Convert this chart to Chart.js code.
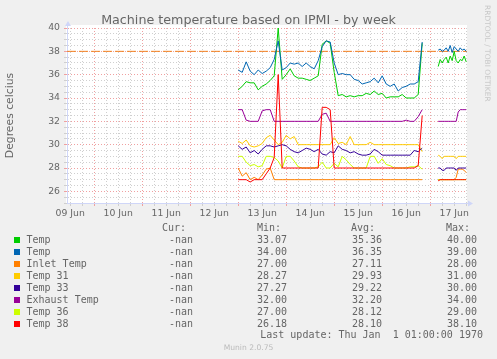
<!DOCTYPE html>
<html>
<head>
<meta charset="utf-8">
<title>Machine temperature based on IPMI - by week</title>
<script src="https://cdn.jsdelivr.net/npm/chart.js@4.4.1/dist/chart.umd.min.js"></script>
<style>
    html, body { margin: 0; padding: 0; background: #f0f0f0; }
    #wrap { position: relative; width: 497px; height: 359px; overflow: hidden; color: #666; }
    #grafico { position: absolute; left: 0; top: 0; }
    #titulo { position: absolute; left: 0; top: 12px; width: 497px; text-align: center;
              font: 12.7px/15px "DejaVu Sans", sans-serif; color: #666; }
    #marca { position: absolute; left: 492px; top: 5px; transform-origin: 0 0; transform: rotate(90deg);
             font: 7.5px/9px "DejaVu Sans", sans-serif; color: #c8c8c8; white-space: nowrap; }
    .t { position: absolute; white-space: pre; font: 10px/12px "DejaVu Sans Mono", monospace; color: #666; }
    .q { position: absolute; width: 6px; height: 6px; }
    #munin { position: absolute; left: 0; width: 497px; top: 343px; text-align: center;
             font: 7.6px/10px "DejaVu Sans", sans-serif; color: #bbb; }
</style>
</head>
<body>
<div id="wrap">
    <canvas id="grafico" width="497" height="359"></canvas>
    <div id="titulo">Machine temperature based on IPMI - by week</div>
    <div id="marca">RRDTOOL / TOBI OETIKER</div>
    <div id="legenda"></div>
    <div id="munin">Munin 2.0.75</div>
</div>
<script>
// Horas desde 09 Jun 00:00 (null = buraco nos dados)
const horas = [96, 98, 100, 102, 104, 106, 108, 110, 112, 114,
    116, 118, 120, 122, 124, 126, 128, 130, 132, 134,
    136, 138, 140, 142, 144, 146, 148, 150, 152, 154,
    156, 158, 160, 162, 164, 166, 168, 170, 172, 174,
    176, 178, 180, 182, 184, 186, 188,
    192,
    196, 197, 198, 199, 200, 201, 202, 203, 204, 205, 206, 207, 208, 209, 210];

const temp1 = [34.7, 35.0, 35.4, 35.3, 35.3, 34.7, 35.0, 35.2, 35.5, 35.9,
    40.0, 35.6, 36.0, 36.5, 35.9, 35.7, 35.7, 35.6, 35.5, 35.7,
    35.9, 38.6, 38.9, 38.7, 36.2, 34.2, 34.3, 34.1, 34.2, 34.1,
    34.2, 34.2, 34.4, 34.3, 34.6, 34.3, 34.4, 34.0, 34.1, 34.1,
    34.1, 34.3, 34.0, 34.0, 34.0, 34.3, 38.7,
    null,
    36.7, 37.3, 37.0, 37.3, 37.5, 37.0, 37.6, 37.2, 38.0, 37.2, 37.0, 37.3, 37.2, 37.6, 37.1];

const temp2 = [36.4, 36.2, 37.1, 36.3, 36.0, 36.4, 36.1, 36.3, 36.6, 37.3,
    38.9, 36.4, 36.6, 37.0, 36.9, 37.0, 36.7, 37.0, 36.7, 36.5,
    37.2, 38.4, 38.9, 38.8, 37.0, 36.0, 36.1, 36.0, 36.0, 35.6,
    35.5, 35.2, 35.3, 35.4, 35.7, 35.3, 35.9, 35.2, 35.0, 35.2,
    34.6, 34.9, 35.0, 35.2, 35.2, 35.4, 38.8,
    null,
    38.1, 38.2, 38.0, 38.1, 38.3, 38.0, 38.5, 37.9, 38.4, 38.2, 38.0, 38.3, 38.1, 38.2, 38.0];

const inletTemp = [28.0, 27.3, 27.6, 27.0, 27.2, 27.0, 27.4, 27.9, 28.0, 27.0,
    27.0, 27.0, 27.0, 27.0, 27.0, 27.0, 27.0, 27.0, 27.0, 27.0,
    27.0, 27.0, 27.0, 27.0, 27.0, 27.0, 27.0, 27.0, 27.0, 27.0,
    27.0, 27.0, 27.0, 27.0, 27.0, 27.0, 27.0, 27.0, 27.0, 27.0,
    27.0, 27.0, 27.0, 27.0, 27.0, 27.0, 27.0,
    null,
    27.0, 27.0, 27.0, 27.0, 27.0, 27.0, 27.0, 27.0, 27.0, 27.2, 27.9, 27.9, 27.9, 27.8, 27.6];

const temp31 = [30.3, 30.1, 30.4, 29.9, 29.8, 29.9, 30.1, 30.6, 30.8, 30.4,
    30.0, 30.2, 30.8, 30.5, 30.7, 30.0, 30.0, 30.0, 30.0, 30.0,
    30.0, 30.0, 30.0, 30.0, 30.6, 30.1, 30.2, 30.0, 30.7, 30.0,
    30.0, 30.0, 30.0, 30.2, 30.0, 30.0, 30.0, 30.0, 30.0, 30.0,
    30.0, 30.0, 30.0, 30.0, 30.0, 30.0, 29.4,
    null,
    29.1, 29.0, 28.8, 29.0, 29.0, 29.0, 29.0, 29.0, 29.0, 28.8, 29.0, 29.0, 29.0, 29.0, 29.0];

const temp33 = [29.9, 29.6, 29.8, 29.3, 29.5, 29.2, 29.6, 29.9, 29.9, 29.8,
    29.9, 30.0, 29.9, 29.6, 29.4, 29.3, 29.5, 29.7, 29.6, 29.4,
    29.6, 29.2, 29.1, 29.4, 29.3, 29.9, 29.6, 29.5, 29.3, 29.4,
    29.2, 29.1, 29.1, 29.2, 29.6, 29.4, 29.1, 29.1, 29.1, 29.1,
    29.1, 29.1, 29.1, 29.1, 29.5, 29.4, 29.7,
    null,
    28.0, 28.0, 27.8, 27.8, 28.0, 28.0, 28.0, 28.0, 28.0, 27.8, 28.0, 28.0, 28.0, 28.0, 28.0];

const exhaustTemp = [33.0, 33.0, 32.1, 32.0, 32.0, 32.0, 32.9, 33.0, 33.0, 32.0,
    32.0, 32.0, 32.0, 32.0, 32.0, 32.0, 32.0, 32.0, 32.0, 32.0,
    32.0, 32.6, 32.7, 32.0, 32.0, 32.0, 32.0, 32.0, 32.0, 32.0,
    32.0, 32.0, 32.0, 32.0, 32.0, 32.0, 32.0, 32.0, 32.0, 32.0,
    32.0, 32.0, 32.1, 32.0, 32.0, 32.4, 33.0,
    null,
    32.0, 32.0, 32.0, 32.0, 32.0, 32.0, 32.0, 32.0, 32.0, 32.0, 32.8, 33.0, 33.0, 33.0, 33.0];

const temp36 = [29.0, 29.0, 28.5, 28.2, 28.3, 28.1, 28.2, 29.0, 29.0, 28.9,
    28.6, 28.0, 29.0, 29.0, 28.6, 28.1, 28.0, 28.0, 28.0, 28.0,
    28.1, 28.5, 28.0, 28.0, 28.4, 28.1, 29.0, 28.7, 28.3, 28.0,
    28.0, 28.0, 28.0, 29.0, 29.0, 28.4, 28.8, 28.3, 28.2, 28.0,
    28.0, 28.0, 28.0, 28.1, 28.1, 28.2, 27.9,
    null,
    27.0, 27.0, 27.0, 27.0, 27.0, 27.0, 27.0, 27.0, 27.0, 27.0, 27.0, 27.0, 27.0, 27.0, 27.0];

const temp38 = [27.0, 27.0, 27.0, 26.8, 27.0, 27.0, 27.0, 27.5, 28.0, 28.9,
    36.0, 28.0, 28.0, 28.0, 28.0, 28.0, 28.0, 28.0, 28.0, 28.0,
    28.0, 33.2, 33.2, 33.0, 28.0, 28.0, 28.0, 28.0, 28.0, 28.0,
    28.0, 28.0, 28.0, 28.0, 28.0, 28.0, 28.0, 28.0, 28.0, 28.0,
    28.0, 28.0, 28.0, 28.0, 28.0, 28.2, 32.5,
    null,
    26.9, 27.0, 27.0, 27.0, 27.0, 27.0, 27.0, 27.0, 27.0, 27.0, 27.0, 27.0, 27.0, 27.0, 27.0];

// Linha de aviso (tracejada)
const nivelAviso = 38;

// Rótulos do eixo x (centrados ao meio-dia) e legenda
const rotulosDias = ['09 Jun', '10 Jun', '11 Jun', '12 Jun', '13 Jun', '14 Jun', '15 Jun', '16 Jun', '17 Jun'];
const nomes = ['Temp', 'Temp', 'Inlet Temp', 'Temp 31', 'Temp 33', 'Exhaust Temp', 'Temp 36', 'Temp 38'];
const cores = ['#00CC00', '#0066B3', '#FF8000', '#FFCC00', '#330099', '#990099', '#CCFF00', '#FF0000'];
const valoresCur = ['-nan', '-nan', '-nan', '-nan', '-nan', '-nan', '-nan', '-nan'];
const valoresMin = ['33.07', '34.00', '27.00', '28.27', '27.27', '32.00', '27.00', '26.18'];
const valoresAvg = ['35.36', '36.35', '27.11', '29.93', '29.22', '32.20', '28.12', '28.10'];
const valoresMax = ['40.00', '39.00', '28.00', '31.00', '30.00', '34.00', '29.00', '38.10'];
const series = [temp1, temp2, inletTemp, temp31, temp33, exhaustTemp, temp36, temp38];

document.addEventListener('DOMContentLoaded', function() {
    if (typeof Chart === 'undefined') {
        console.error('Chart.js não foi carregado!');
        return;
    }

    const corGrade = '#cfcfcf';
    const corGradeMaior = '#f0a0a0';
    const corEixo = '#CFD6F8';
    const xMin = 10.4, xMax = 210.4;

    // fundo branco da área do gráfico
    const fundo = {
        id: 'fundo',
        beforeDraw(chart) {
            const a = chart.chartArea, c = chart.ctx;
            c.save();
            c.fillStyle = '#ffffff';
            c.fillRect(a.left - 1, a.top - 3, a.right - a.left + 1, a.bottom - a.top + 3);
            c.restore();
        }
    };

    // setas dos eixos (estilo rrdtool)
    const setas = {
        id: 'setas',
        afterDraw(chart) {
            const a = chart.chartArea, c = chart.ctx;
            const x0 = Math.round(a.left) + 0.5, y0 = Math.round(a.bottom) + 0.5;
            c.save();
            c.strokeStyle = corEixo;
            c.fillStyle = corEixo;
            c.lineWidth = 1;
            c.beginPath();
            c.moveTo(x0, a.top); c.lineTo(x0, a.top - 4);
            c.moveTo(a.right, y0); c.lineTo(a.right + 4, y0);
            c.stroke();
            c.beginPath();
            c.moveTo(x0 - 2.5, a.top - 2); c.lineTo(x0 + 3.5, a.top - 2); c.lineTo(x0 + 0.5, a.top - 7);
            c.closePath(); c.fill();
            c.beginPath();
            c.moveTo(a.right + 1, y0 - 3); c.lineTo(a.right + 1, y0 + 3); c.lineTo(a.right + 6, y0);
            c.closePath(); c.fill();
            c.restore();
        }
    };

    const datasets = series.map(function(vals, i) {
        return {
            label: nomes[i],
            data: horas.map(function(h, k) { return {x: h, y: vals[k]}; }),
            borderColor: cores[i],
            backgroundColor: cores[i],
            borderWidth: 1,
            pointRadius: 0,
            tension: 0,
            fill: false,
            spanGaps: false,
            order: series.length - i
        };
    });
    datasets.push({
        label: 'aviso',
        data: [{x: xMin, y: nivelAviso}, {x: xMax, y: nivelAviso}],
        borderColor: '#f08020',
        borderWidth: 1,
        borderDash: [9, 3],
        pointRadius: 0,
        fill: false,
        order: 20
    });

    try {
        new Chart(document.getElementById('grafico'), {
            type: 'line',
            data: { datasets: datasets },
            plugins: [fundo, setas],
            options: {
                responsive: false,
                animation: false,
                events: [],
                layout: { padding: { left: 0, top: 28, right: 30, bottom: 136 } },
                plugins: { legend: { display: false }, tooltip: { enabled: false } },
                scales: {
                    x: {
                        type: 'linear',
                        min: xMin,
                        max: xMax,
                        afterBuildTicks: function(scale) {
                            const t = [];
                            for (let h = 12; h <= 210; h += 6) t.push({value: h});
                            scale.ticks = t;
                        },
                        afterFit: function(scale) { scale.height = 20; },
                        ticks: {
                            autoSkip: false,
                            maxRotation: 0,
                            minRotation: 0,
                            padding: 2,
                            color: '#666',
                            font: { family: 'DejaVu Sans', size: 9.3 },
                            callback: function(value) {
                                return value % 24 === 12 ? rotulosDias[(value - 12) / 24] : '';
                            }
                        },
                        grid: {
                            tickLength: 3,
                            color: function(ctx) {
                                return ctx.tick && ctx.tick.value % 24 === 0 ? corGradeMaior : corGrade;
                            }
                        },
                        border: { color: corEixo, width: 1, dash: [1, 2] }
                    },
                    y: {
                        min: 25,
                        max: 40,
                        afterBuildTicks: function(scale) {
                            const t = [];
                            for (let v = 25; v <= 40; v += 0.5) t.push({value: v});
                            scale.ticks = t;
                        },
                        afterFit: function(scale) { scale.width = 67; },
                        title: {
                            display: true,
                            text: 'Degrees celcius',
                            color: '#666',
                            font: { family: 'DejaVu Sans', size: 10.8 },
                            padding: { top: 4, bottom: 0 }
                        },
                        ticks: {
                            autoSkip: false,
                            padding: 4,
                            color: '#666',
                            font: { family: 'DejaVu Sans', size: 9.3 },
                            callback: function(value) {
                                return (value % 2 === 0 && value >= 26) ? String(value) : '';
                            }
                        },
                        grid: {
                            tickLength: 3,
                            color: function(ctx) {
                                return ctx.tick && ctx.tick.value % 2 === 0 ? corGradeMaior : corGrade;
                            }
                        },
                        border: { color: corEixo, width: 1, dash: [1, 2] }
                    }
                }
            }
        });
        console.log('Gráfico criado com sucesso!');
    } catch (error) {
        console.error('Erro ao criar gráfico:', error);
    }

    // Legenda estilo munin (texto monoespaçado)
    const legenda = document.getElementById('legenda');
    function texto(str, topo, esquerda, direita) {
        const d = document.createElement('div');
        d.className = 't';
        d.textContent = str;
        d.style.top = topo + 'px';
        if (direita !== undefined) d.style.right = (497 - direita) + 'px';
        else d.style.left = esquerda + 'px';
        legenda.appendChild(d);
    }
    texto('Cur:', 221.5, undefined, 186);
    texto('Min:', 221.5, undefined, 281);
    texto('Avg:', 221.5, undefined, 375);
    texto('Max:', 221.5, undefined, 470);
    nomes.forEach(function(nome, i) {
        const centro = 239.6 + i * 12.05;
        const q = document.createElement('div');
        q.className = 'q';
        q.style.left = '14px';
        q.style.top = (centro - 3) + 'px';
        q.style.background = cores[i];
        legenda.appendChild(q);
        texto(nome, centro - 6, 26.5);
        texto(valoresCur[i], centro - 6, undefined, 193);
        texto(valoresMin[i], centro - 6, undefined, 287);
        texto(valoresAvg[i], centro - 6, undefined, 382);
        texto(valoresMax[i], centro - 6, undefined, 477);
    });
    texto('Last update: Thu Jan  1 01:00:00 1970', 329.3, undefined, 483);
});
</script>
</body>
</html>
